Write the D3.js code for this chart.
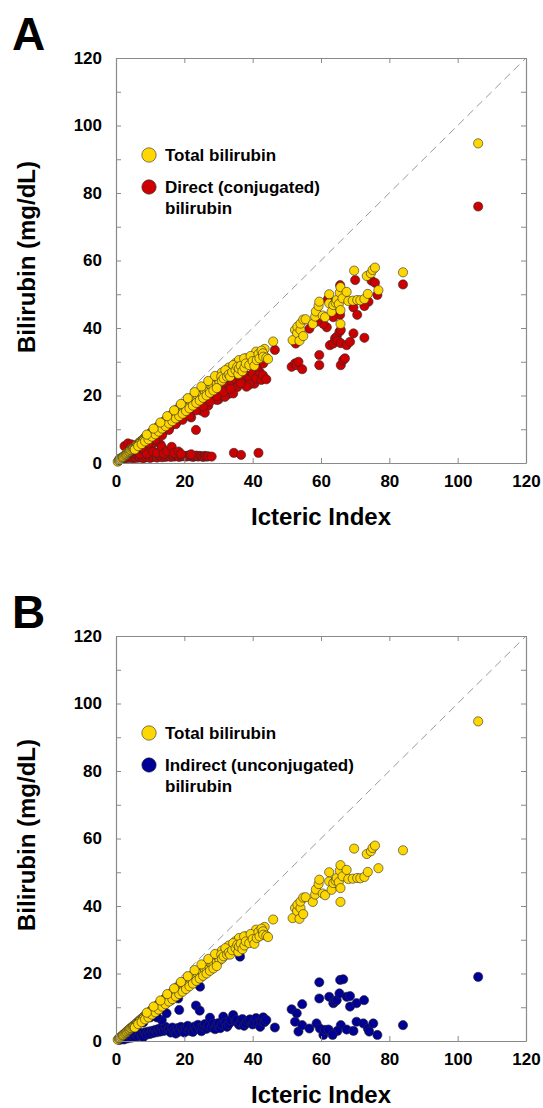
<!DOCTYPE html>
<html>
<head>
<meta charset="utf-8">
<script src="https://cdn.jsdelivr.net/npm/d3@7"></script>
<style>
  html, body { margin: 0; padding: 0; background: #fff; }
  svg { display: block; }
  text { font-family: "Liberation Sans", Arial, sans-serif; font-weight: bold; fill: #000; }
</style>
</head>
<body>
<svg id="chart" width="543" height="1108"></svg>
<script>
// ---------- data ----------
const xTicks = [0, 20, 40, 60, 80, 100, 120];
const yTicks = [0, 20, 40, 60, 80, 100, 120];
const xTitle = "Icteric Index";
const yTitle = "Bilirubin (mg/dL)";
const panelLetters = ["A", "B"];
const legendA = ["Total bilirubin", "Direct (conjugated)", "bilirubin"];
const legendB = ["Total bilirubin", "Indirect (unconjugated)", "bilirubin"];

// [icteric index, total bilirubin]
const totalBilirubin = [
  [0.5,0.4],[0.8,0.7],[1,0.9],[1.2,1],[1.5,1.3],[1.8,1.6],[2,1.7],[2.2,1.9],[2.5,2.2],[2.8,2.4],
  [3,2.6],[3.2,2.9],[3.5,3.1],[3.8,3.3],[4,3.5],[4.2,3.8],[4.5,3.9],[4.8,4.2],[5,4.4],[5.2,4.6],
  [5.5,4.7],[5.8,5.1],[6,5.2],[6.2,5.5],[6.5,5.6],[6.8,6],[7,6.1],[7.2,6.4],[7.5,6.5],[7.8,6.8],
  [8,7],[8.2,7.3],[8.5,7.4],[8.8,7.7],[9,7.8],[9.2,8.1],[9.5,8.3],[9.8,8.5],[10,8.8],[6,4.8],
  [7,5.7],[8,6.5],[9,7.2],[10,8.0],
  [10.3,9],[10.5,8.6],[10.8,9.4],[11,9.6],[11.2,9.1],[11.5,10],[11.8,10.2],[12,10.5],[12.2,9.8],[12.5,10.8],
  [12.8,11.2],[13,11],[13.3,11.6],[13.5,11.9],[13.8,11.5],[14,12.2],[14.3,12.5],[14.5,11.8],[14.8,12.9],[15,13],
  [15.3,12.4],[15.5,13.5],[15.8,13.8],[16,13.2],[16.3,14.2],[16.5,14.5],[16.8,13.9],[17,14.8],[17.3,15],[17.5,14.4],
  [17.8,15.5],[18,15.8],[18.3,15.1],[18.5,16.2],[18.8,16.4],[19,15.7],[19.3,16.8],[19.5,17],[19.8,16.3],[20,17.4],
  [20.3,17.7],[20.5,16.9],[20.8,18],[21,18.3],[21.3,17.4],[21.5,18.6],[21.8,18.9],[22,18.1],[22.3,19.3],[22.5,19.6],
  [22.8,18.7],[23,20],[23.3,20.3],[23.5,19.2],[23.8,20.6],[24,19.8],[24.3,21],[24.5,20.2],[25,21.4],[25.3,20.6],
  [25.5,22],[26,21.2],[26.3,22.6],[26.5,21.7],[27,23],[27.3,22.1],[27.5,23.2],[28,22.6],[28.3,23.8],[28.5,22.9],
  [29,24.2],[29.5,23.5],[30,24.8],[30.3,23.9],
  [5.5,4.0],[6.5,5.0],[7.5,5.6],[8.5,6.4],[9.5,7.0],[10.5,7.8],[11.5,8.5],[12.5,9.3],[13.5,10.2],[14.5,10.9],
  [15.5,11.7],[16.5,12.4],[17.5,13.2],[18.5,13.9],[19.5,14.6],[20.5,15.4],[21.5,16.2],[22.5,17],[23.5,17.8],[24.5,18.5],
  [25.5,19.3],[26.5,20],[27.5,20.8],[28.5,21.5],[29.5,22.2],
  [9,8.4],[11,10.2],[13,12],[15,13.9],[17,15.6],[19,17.5],[21,19.2],[23,21],[25,22.7],[27,24.3],
  [29,25.8],[31,26.8],[33,28.3],[35,29.6],[36,30.5],[38,31],[40,31.5],[41,33],[43.5,33.8],
  [30.8,25.6],[31,24.4],[31.5,25.1],[32,27.5],[32.5,25.6],[33,26.2],[33.4,25.6],[34,26.9],[34.3,29],[35,27.5],
  [35.5,28.5],[35.8,26.4],[36,28],[36.5,28.8],[37,27.2],[37.5,31],[37.6,28.3],[38,29.5],[39,29],[39.4,31.7],
  [40,30.2],[40.5,28.8],[41.2,30.5],[41.7,32.3],[42,31],[42.6,33.3],[43,32.5],[43.1,31.5],[44,31.2],[44.5,30.8],
  [46,36],[51.7,36.4],[52.4,39.4],[53,38.5],[53.1,40.4],[53.7,36.2],[54,39.4],[54,41.3],[54.8,37.6],[54.8,42.5],
  [55.5,42.6],[57.6,41.2],[58.3,43.4],[58.5,44.9],[59.3,46.5],[59.5,47.8],[60.5,43.7],[61.2,43.2],[62.4,47.3],[62.4,50],
  [63.1,44.8],[63.6,46.8],[64.3,47.5],[64.6,48.3],[65.2,47.1],[65.5,50.5],[65.7,52.1],[65.7,41.2],[65.7,45.3],[66.3,48.8],
  [67.5,50.7],[68,48],[69.3,48.1],[69.7,57],[70.6,48.3],[71.5,48.2],[72.7,48.6],[73.4,55.4],[73.7,50.1],[74.6,56.2],
  [75.1,57.2],[75.8,57.9],[76.8,51.2],[84,56.5],[106,94.7]
];

// [icteric index, direct (conjugated) bilirubin]
const directBilirubin = [
  [1,1.2],[1.5,1.5],[2,1.3],[2.5,1.6],[3,1.4],[3.5,1.8],[4,1.5],[4.5,1.9],[5,1.4],[5.5,1.7],
  [6,1.5],[6.5,2],[7,1.6],[7.5,1.9],[8,1.4],[8.5,2.1],[9,1.7],[9.5,2],[10,1.5],[10.5,2.2],
  [11,1.8],[11.5,2.1],[12,1.6],[12.5,2.3],[13,1.9],[13.5,1.7],[14,2.2],[14.5,1.8],[15,2.1],[15.5,2.3],
  [16,1.8],[16.5,2.2],[17,1.9],[17.5,2.3],[18,2],[18.5,1.8],[19,2.2],[19.5,2],[20,2.1],[20.5,1.9],
  [21,2.2],[21.5,2],[22,2.1],[22.5,1.8],[23,2],[23.5,2.2],[24,1.9],[24.5,2.1],[25,2],[25.5,1.8],
  [26,2.1],[26.5,1.9],[27,2],[28,1.9],
  [2.5,5],[3.5,5.8],[4.5,5.5],[5,3],[6,3.5],[7,2.7],[8,3.9],[9,2.8],[10,4.5],[10.9,3.4],
  [11,6],[12,3],[13,5.5],[13.4,4.8],[14,2.8],[15,3.5],[16.3,4.8],[17,3],[18.3,3.4],[19,2.7],
  [22,2.6],[23.4,9.8],[34.5,3],[36.6,2.4],[41.7,3],
  [5,3.5],[6,4.2],[7,4.8],[8,5.5],[9,6.2],[10,6.8],[11,7.5],[12,8],[12.5,8.8],[13,9.2],
  [14,9.5],[14.5,10.2],[15,10.8],[16,11],[16.5,11.8],[17,12.3],[18,12.4],[18.5,13.2],[19,13.6],[20,13.8],
  [20.5,14.5],[21,15],[22,15.2],[22.5,16],[23,16.5],[24,16.6],[24.5,17.4],[25,17.8],[26,18.2],[26.5,19],
  [27,19.5],[28,19.6],[28.5,20.5],[29,21],[30,21.2],[30.5,22],[31,22.5],[32,22.8],[33,23.5],[34,23.8],
  [35,24.8],[36,25.5],[37,24.5],[38,26],[39,25],[40,26.5],[40.5,23.5],[41,25],[42,27],[42.5,24.6],
  [43,26],[44,24.8],[39,23.2],[35.5,22.5],[33,20.5],[30,18.8],[27,17],[25,15.5],[22,13.5],[41.2,28.5],
  [43.1,29.5],[38.2,22.6],[34.3,20.6],[31.9,19.6],[29.5,18.7],[26,14.9],
  [15.5,9.8],[17.5,11.5],[19.5,12.8],[21.5,14],[23.5,15.6],[25.5,16.8],[27.5,18.2],[29.5,19.8],[31.5,21],[33.5,22],
  [36.5,23.6],[11.5,7],[13.5,8.2],[9.5,5.8],[7.5,4.6],
  [46.5,33.5],[51.4,28.5],[52.4,29.5],[52.9,29],[54.5,27.8],[53.4,30],[52.6,35.4],[56.6,39.8],[59.5,32],[59.5,29],
  [61.7,40.2],[60.7,41.2],[58.8,41.9],[62.6,34.9],[63.6,35.4],[64.1,36.9],[64.6,37.4],[65.4,38.9],[65.8,39.4],[64.8,36.2],
  [65.8,29],[66.5,30.5],[67,31],[65.8,35.5],[67.5,34.9],[68.5,35.9],[69.5,38.4],[72.7,37.1],[69.5,46.1],[70.6,43.9],
  [70,54.2],[73.9,47.8],[72.7,46.5],[74.8,54],[75.8,53.4],[76.5,49.8],[65.6,52.7],[65.6,43.9],[63.6,43.2],[62,48.5],
  [84,52.9],[106,76]
];

// [icteric index, indirect (unconjugated) bilirubin]
const indirectBilirubin = [
  [2,0.5],[4,2.2],[6,3.8],[8,5.5],[10,7],[12,8.8],[14,10.5],[16,12],[18,13.8],[20,15.5],
  [22,17],[24,18.5],[26,20],[28,21.5],[36.3,25],[34.3,26.8],[24.6,16.1],[18.2,12.6],
  [1,0.3],[1.5,0.6],[2,0.9],[2.5,0.5],[3,1.2],[3.5,0.8],[4,1.5],[4.5,1],[5,1.8],[5.5,1.2],
  [6,2],[6.5,1.4],[7,2.4],[7.5,1.6],[8,1.2],[8.5,2.6],[9,1.9],[9.5,2.8],[10,2.1],[10.5,3],
  [11,2.4],[11.5,3.3],[12,2.6],[12.5,3.6],[13,2.8],[13.5,4],[14,3],[14.5,4.2],[15,3.2],
  [13.4,6.2],[14.8,8.2],[9.8,8.2],[12,7],
  [15.5,3.5],[16,2.5],[16.5,4],[17,3],[17.5,2.2],[18,3.8],[18.5,2.8],[19,4.2],[19.7,3.3],[20,2.5],
  [20.5,3.8],[21,4.5],[21.5,3],[22,3.9],[22.5,2.7],[23,4.3],[23.5,3.5],[24,4.8],[24.6,3.8],[25,2.9],
  [25.5,4.2],[26,5],[26.5,3.6],[27,4.4],[27.5,6.9],[28,4],[28.5,5.2],[29,3.5],[29.5,4.6],[30,5.3],
  [30.5,3.8],[31,4.9],[31.4,7.2],[32,5.5],[32.5,4.2],[33,5],[33.5,6.2],[34.3,7.7],[35,5.8],[35.3,6.2],
  [36,4.8],[36.5,5.5],[37,6.5],[37.5,4.5],[38,5.2],[38.5,6],[39.2,6.4],[40,4.9],[40.5,5.6],[41,6.8],
  [41.5,5.2],[42.2,4.2],[42.5,6],[43.1,7],[43.5,5.6],[44,6.2],[46.5,4],[23.4,10.5],[18.5,9.2],[24.5,9],
  [51.4,9.4],[52.9,8.2],[54.5,10.9],[52.4,5.7],[53.4,2.8],[54.5,4.7],[56.6,3.7],[59.5,17.4],[59.5,12.6],[58.7,5.2],
  [59.7,3.7],[60.7,1.8],[61.2,3.3],[62.2,3.4],[62.4,13.1],[63.6,11.2],[64.1,11.7],[64.6,12.1],[65.4,14.1],[65.6,18.1],
  [66.5,18.3],[65.8,4.7],[64.8,3],[63.4,1.8],[67.5,13.1],[68.5,13.3],[68.5,10.2],[70.4,11.2],[72.6,12.1],[67.5,3.4],
  [69.5,3],[70.4,5.7],[72.4,5.2],[73.7,3.7],[74.1,2.8],[75.3,5.2],[76.5,1.8],[84,4.7],[106,19]
];

// ---------- drawing ----------
const svg = d3.select("#chart");
const axisColor = "#8a8a8a";
const colors = { total: "#FFD700", direct: "#CC0000", indirect: "#000096" };

function drawPanel(top, letter, second, legendText, secondColor) {
  const x = d3.scaleLinear().domain([0, 120]).range([116, 526]);
  const y = d3.scaleLinear().domain([0, 120]).range([top + 405, top]);
  const g = svg.append("g");

  // panel letter
  g.append("text").attr("x", 12).attr("y", top - 8)
    .attr("font-size", 46).text(letter);

  // identity dashed line
  g.append("line")
    .attr("x1", x(0)).attr("y1", y(0)).attr("x2", x(120)).attr("y2", y(120))
    .attr("stroke", "#999").attr("stroke-width", 1).attr("stroke-dasharray", "8,5");

  // points
  const drawPts = (data, fill) => {
    g.append("g").selectAll("circle").data(data).join("circle")
      .attr("cx", d => x(d[0])).attr("cy", d => y(d[1])).attr("r", 4.6)
      .attr("fill", fill).attr("stroke", "#2a2a2a").attr("stroke-width", 0.6);
  };
  drawPts(second, secondColor);
  drawPts(totalBilirubin, colors.total);

  // axes
  const yMinor = d3.range(0, 121, 10);
  const styleAxis = sel => {
    sel.selectAll(".domain").attr("stroke", axisColor).attr("stroke-width", 1.2);
    sel.selectAll(".tick line").attr("stroke", axisColor).attr("stroke-width", 1);
    sel.selectAll(".tick text").attr("font-size", 17).attr("font-family", "Liberation Sans, Arial, sans-serif")
      .attr("font-weight", "bold").attr("fill", "#000");
  };
  g.append("g").attr("transform", `translate(0,${y(0)})`)
    .call(d3.axisBottom(x).tickValues(xTicks).tickSizeInner(-5).tickSizeOuter(0).tickPadding(12))
    .call(styleAxis);
  g.append("g").attr("transform", `translate(0,${y(120)})`)
    .call(d3.axisTop(x).tickValues(xTicks).tickSizeInner(-5).tickSizeOuter(0).tickFormat(""))
    .call(styleAxis);
  g.append("g").attr("transform", `translate(${x(0)},0)`)
    .call(d3.axisLeft(y).tickValues(yMinor).tickSizeInner(-5).tickSizeOuter(0).tickPadding(14)
      .tickFormat(d => yTicks.includes(d) ? d : ""))
    .call(styleAxis);
  g.append("g").attr("transform", `translate(${x(120)},0)`)
    .call(d3.axisRight(y).tickValues(yMinor).tickSizeInner(-5).tickSizeOuter(0).tickFormat(""))
    .call(styleAxis);

  // axis titles
  g.append("text").attr("x", (x(0) + x(120)) / 2).attr("y", top + 467)
    .attr("text-anchor", "middle").attr("font-size", 24).text(xTitle);
  g.append("text").attr("transform", `translate(35,${top + 199}) rotate(-90)`)
    .attr("text-anchor", "middle").attr("font-size", 24).text(yTitle);

  // legend
  const lx = 149;
  g.append("circle").attr("cx", lx).attr("cy", top + 97).attr("r", 7.2)
    .attr("fill", colors.total).attr("stroke", "#2a2a2a").attr("stroke-width", 0.6);
  g.append("text").attr("x", lx + 16).attr("y", top + 103).attr("font-size", 17).text(legendText[0]);
  g.append("circle").attr("cx", lx).attr("cy", top + 129).attr("r", 7.2)
    .attr("fill", secondColor).attr("stroke", "#2a2a2a").attr("stroke-width", 0.6);
  g.append("text").attr("x", lx + 16).attr("y", top + 135).attr("font-size", 17).text(legendText[1]);
  g.append("text").attr("x", lx + 16).attr("y", top + 156).attr("font-size", 17).text(legendText[2]);
}

drawPanel(58, panelLetters[0], directBilirubin, legendA, colors.direct);
drawPanel(636, panelLetters[1], indirectBilirubin, legendB, colors.indirect);
</script>
</body>
</html>
